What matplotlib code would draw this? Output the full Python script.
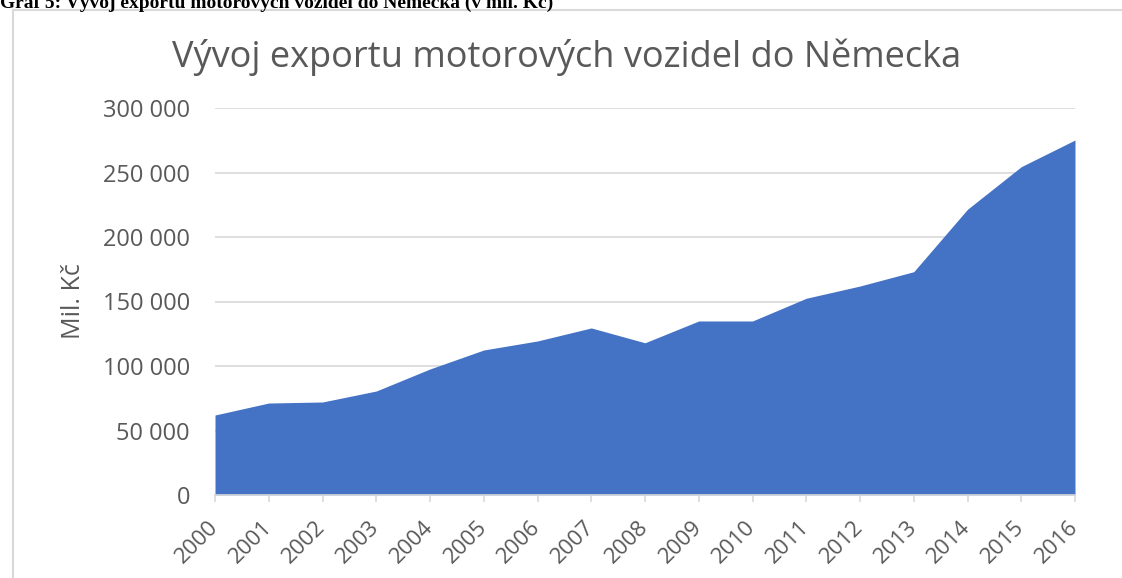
import matplotlib
matplotlib.use("Agg")
import matplotlib.pyplot as plt
from matplotlib.patches import Rectangle
from matplotlib.ticker import FuncFormatter

years = list(range(2000, 2017))
export_mil = [62000, 71300, 72100, 80600, 97700, 112400, 119400, 129500, 118000,
              134900, 134900, 152500, 162000, 173100, 221500, 254500, 275200]
y_ticks = [0, 50000, 100000, 150000, 200000, 250000, 300000]

caption = "Graf 5: Vývoj exportu motorových vozidel do Německa (v mil. Kč)"
title = "Vývoj exportu motorových vozidel do Německa"
ylabel = "Mil. Kč"

W, H = 1122, 578
text_col = "#595959"
grid_col = "#d9d9d9"

plt.rcParams['font.family'] = ['Open Sans', 'DejaVu Sans']

fig = plt.figure(figsize=(W / 100, H / 100), dpi=100)

# chart frame (light gray border, partly cut by the page)
frame = Rectangle((13 / W, -0.05), 1.2, 1 - 10 / H + 0.05, transform=fig.transFigure,
                  facecolor="white", edgecolor=grid_col, lw=1.5, zorder=-5)
fig.patches.append(frame)

# document caption, clipped at top
fig.text(0.0, 1 - 8 / H, caption, family="Liberation Serif", fontweight="bold",
         fontsize=14, va="baseline", ha="left")

ax = fig.add_axes([215 / W, 1 - 495 / H, (1075 - 215) / W, (495 - 108) / H])
ax.patch.set_alpha(0)
ax.fill_between(years, export_mil, 0, color="#4472C4", lw=0, zorder=2)

ax.set_xlim(2000, 2016)
ax.set_ylim(0, 300000)
ax.set_yticks(y_ticks)
ax.yaxis.set_major_formatter(FuncFormatter(lambda v, p: f"{int(v):,}".replace(",", " ")))
ax.set_xticks(years)
ax.set_xticklabels([str(y) for y in years], rotation=45, ha="right", va="center",
                   rotation_mode="anchor")

ax.grid(axis="y", color=grid_col, lw=1.2, zorder=1)
ax.set_axisbelow(True)
for s in ["top", "right", "left"]:
    ax.spines[s].set_visible(False)
ax.spines["bottom"].set_color(grid_col)
ax.spines["bottom"].set_linewidth(1.2)

ax.tick_params(axis="y", length=0, pad=18, labelsize=17, labelcolor=text_col)
ax.tick_params(axis="x", length=5, width=1.2, color=grid_col, pad=16,
               labelsize=16, labelcolor=text_col)

ax.set_ylabel(ylabel, fontsize=18, color=text_col, labelpad=12)
fig.text(567 / W, 1 - 57 / H, title, fontsize=26, color=text_col, ha="center", va="center")

fig.savefig("out.png", dpi=100)
